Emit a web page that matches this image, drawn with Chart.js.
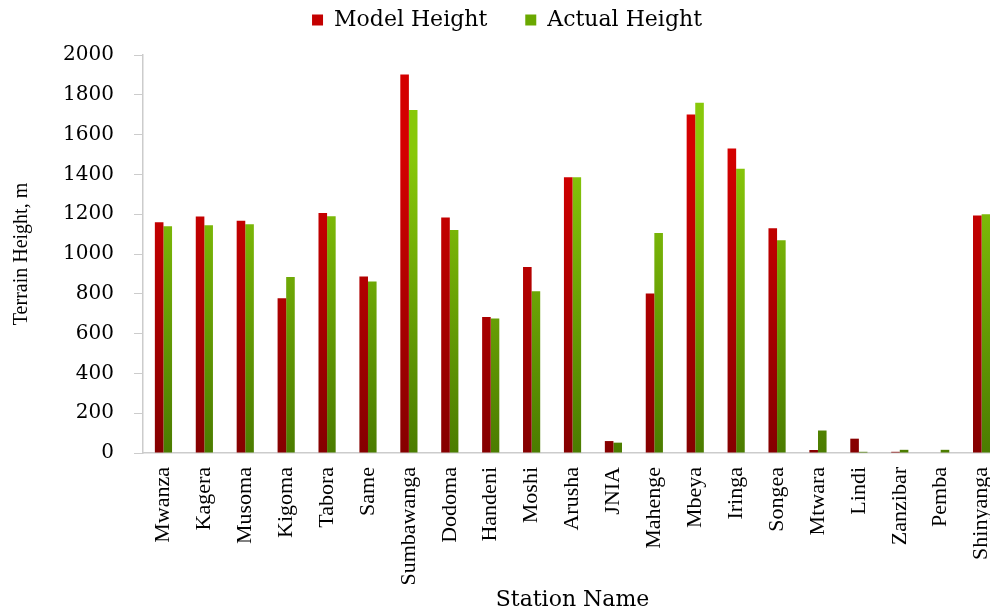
<!DOCTYPE html>
<html lang="en">
<head>
  <meta charset="UTF-8">
  <title>Terrain Height</title>
  <script src="https://cdn.jsdelivr.net/npm/chart.js@4"></script>
  <style>
    html, body { margin: 0; padding: 0; background: #fff; overflow: hidden; }
    #wrap { width: 1014px; height: 613px; }
  </style>
</head>
<body>

<div id="wrap">
  <canvas id="barChart"></canvas>
</div>

<script>
  // station names along the x axis
  const stations = ['Mwanza', 'Kagera', 'Musoma', 'Kigoma', 'Tabora', 'Same', 'Sumbawanga',
    'Dodoma', 'Handeni', 'Moshi', 'Arusha', 'JNIA', 'Mahenge', 'Mbeya', 'Iringa', 'Songea',
    'Mtwara', 'Lindi', 'Zanzibar', 'Pemba', 'Shinyanga'];

  // terrain heights in metres
  const modelHeight = [1159, 1189, 1167, 778, 1206, 887, 1902, 1184, 684, 935, 1386, 60, 801,
    1701, 1530, 1130, 15, 72, 6, 0, 1194];
  const actualHeight = [1140, 1145, 1149, 885, 1190, 862, 1723, 1120, 676, 813, 1386, 52, 1105,
    1760, 1428, 1069, 113, 6, 16, 16, 1200];

  const yTicks = { min: 0, max: 2000, step: 200 };

  // vertical gradient for each bar set, dark at the bottom
  function makeGradient(ctx, top, bottom) {
    const area = ctx.chart.chartArea;
    if (!area) return top;
    const g = ctx.chart.ctx.createLinearGradient(0, area.bottom, 0, area.top);
    g.addColorStop(0, bottom);
    g.addColorStop(0.75, top);
    g.addColorStop(1, top);
    return g;
  }

  // leave some room between the legend and the plot
  const legendGap = {
    id: 'legendGap',
    beforeLayout(chart) {
      const lg = chart.legend;
      if (lg && !lg._gapPatched) {
        const fit = lg.fit;
        lg.fit = function () {
          fit.call(this);
          this.height += 14;
        };
        lg._gapPatched = true;
      }
    }
  };

  const serif = "'Liberation Serif', 'Times New Roman', serif";
  const wideSerif = "'DejaVu Serif', serif";

  const config = {
    type: 'bar',
    data: {
      labels: stations,
      datasets: [{
        label: 'Model Height',
        data: modelHeight,
        backgroundColor: ctx => makeGradient(ctx, '#d40000', '#850000'),
        borderWidth: 0
      }, {
        label: 'Actual Height',
        data: actualHeight,
        backgroundColor: ctx => makeGradient(ctx, '#88c80a', '#4b7c00'),
        borderWidth: 0
      }]
    },
    options: {
      responsive: true,
      maintainAspectRatio: false,
      animation: false,
      // negative top padding pulls the legend up; its large padding keeps the items apart
      layout: { padding: { left: 0, right: 0, top: -29, bottom: 0 } },
      datasets: {
        bar: { barPercentage: 1, categoryPercentage: 0.42 }
      },
      plugins: {
        tooltip: { enabled: false },
        legend: {
          position: 'top',
          labels: {
            generateLabels: chart => [
              { text: 'Model Height', fillStyle: '#c40000', strokeStyle: '#c40000', lineWidth: 0, datasetIndex: 0 },
              { text: 'Actual Height', fillStyle: '#6aa800', strokeStyle: '#6aa800', lineWidth: 0, datasetIndex: 1 }
            ],
            boxWidth: 11,
            boxHeight: 11,
            padding: 38,
            color: '#000',
            font: { family: wideSerif, size: 22 }
          }
        }
      },
      scales: {
        x: {
          offset: true,
          grid: { display: false },
          border: { color: '#cccccc', width: 1.5 },
          ticks: {
            autoSkip: false,
            minRotation: 90,
            maxRotation: 90,
            padding: 6,
            color: '#000',
            font: { family: serif, size: 22 }
          },
          title: {
            display: true,
            text: 'Station Name',
            color: '#000',
            font: { family: wideSerif, size: 22 },
            padding: { top: 0, bottom: 0 }
          },
          afterFit: scale => { scale.height = 160; }
        },
        y: {
          min: yTicks.min,
          max: yTicks.max,
          grid: { drawOnChartArea: false, tickLength: 9, color: '#cccccc' },
          border: { color: '#cccccc', width: 1.5 },
          ticks: {
            stepSize: yTicks.step,
            padding: 20,
            color: '#000',
            font: { family: wideSerif, size: 20 },
            callback: v => String(v)
          },
          title: {
            display: true,
            text: 'Terrain Height, m',
            color: '#000',
            font: { family: serif, size: 20 },
            padding: { top: 10, bottom: 0 }
          },
          afterFit: scale => { scale.width = 143; }
        }
      }
    },
    plugins: [legendGap]
  };

  const barChart = new Chart(document.getElementById('barChart'), config);
</script>

</body>
</html>
